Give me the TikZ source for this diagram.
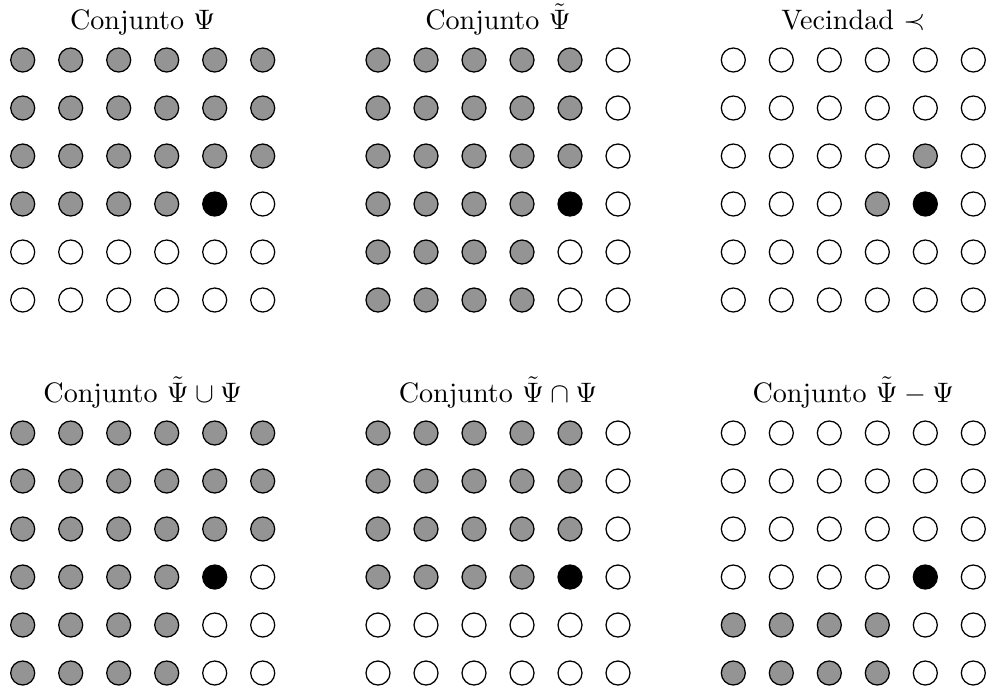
\documentclass[tikz,border=0pt]{standalone}
\begin{document}
\begin{tikzpicture}[x=0.0125cm,y=-0.0125cm,
  dot/.style={circle,draw=black,line width=0.45pt,minimum size=0.3cm,inner sep=0pt},
  title/.style={anchor=base,inner sep=0pt,font=\normalsize}]
\colorlet{dotg}{black!42}
\colorlet{dotw}{white}
\colorlet{dotb}{black}
\useasboundingbox (0,0) rectangle (990,694);
% grid definitions: name / origin x / origin y / title / rows
\foreach \gname/\gx/\gy/\gtitle/\grows in {
  A/22.7/60/{Conjunto $\Psi$}/{{g,g,g,g,g,g},{g,g,g,g,g,g},{g,g,g,g,g,g},{g,g,g,g,b,w},{w,w,w,w,w,w},{w,w,w,w,w,w}},
  B/378/60/{Conjunto $\tilde{\Psi}$}/{{g,g,g,g,g,w},{g,g,g,g,g,w},{g,g,g,g,g,w},{g,g,g,g,b,w},{g,g,g,g,w,w},{g,g,g,g,w,w}},
  C/733.3/60/{Vecindad $\prec$}/{{w,w,w,w,w,w},{w,w,w,w,w,w},{w,w,w,w,g,w},{w,w,w,g,b,w},{w,w,w,w,w,w},{w,w,w,w,w,w}},
  D/22.7/433/{Conjunto $\tilde{\Psi}\cup\Psi$}/{{g,g,g,g,g,g},{g,g,g,g,g,g},{g,g,g,g,g,g},{g,g,g,g,b,w},{g,g,g,g,w,w},{g,g,g,g,w,w}},
  E/378/433/{Conjunto $\tilde{\Psi}\cap\Psi$}/{{g,g,g,g,g,w},{g,g,g,g,g,w},{g,g,g,g,g,w},{g,g,g,g,b,w},{w,w,w,w,w,w},{w,w,w,w,w,w}},
  F/733.3/433/{Conjunto $\tilde{\Psi}-\Psi$}/{{w,w,w,w,w,w},{w,w,w,w,w,w},{w,w,w,w,w,w},{w,w,w,w,b,w},{g,g,g,g,w,w},{g,g,g,g,w,w}}}
{
  \node[title] (t\gname) at (\gx+120,\gy-30.7) {\gtitle};
  \foreach \row [count=\r] in \grows {
    \foreach \c [count=\k] in \row {
      \node[dot,fill=dot\c] (\gname-\r-\k) at (\gx+48*\k-48,\gy+48*\r-48) {};
    }
  }
}
\end{tikzpicture}
\end{document}
